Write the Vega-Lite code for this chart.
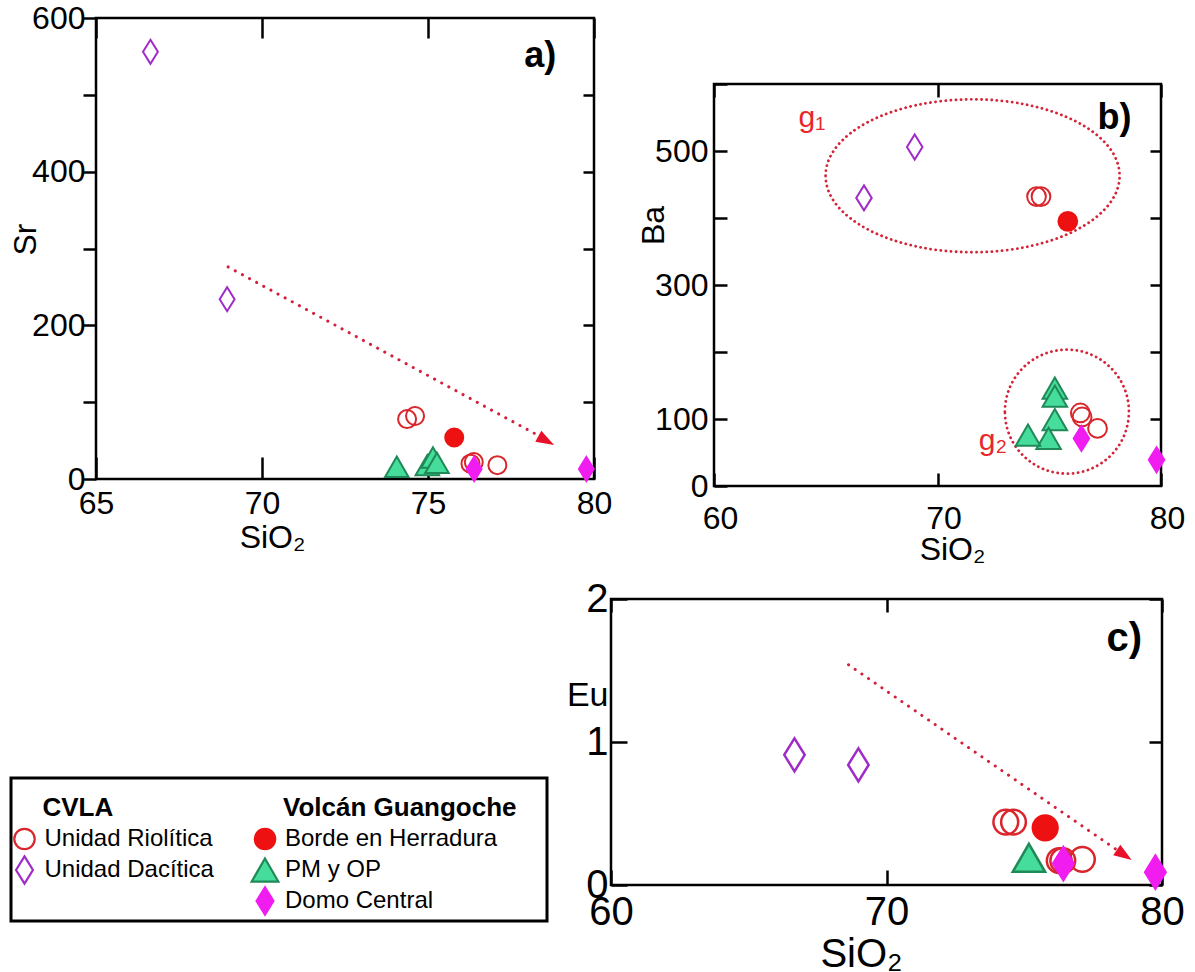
{
  "$schema": "https://vega.github.io/schema/vega-lite/v6.json",
  "padding": 0,
  "background": "white",
  "config": {
    "font": "Liberation Sans",
    "view": {"stroke": "#000", "strokeWidth": 2.5},
    "axis": {"domain": false, "grid": false, "tickColor": "#000", "tickWidth": 2.5, "labelColor": "#000", "titleColor": "#000", "labelFont": "Liberation Sans", "titleFont": "Liberation Sans", "titleFontWeight": "normal", "labelOverlap": false, "labelFlush": false, "labelBound": false},
    "text": {"font": "Liberation Sans"}
  },
  "datasets": {
    "a": [
      {"tipo": "Unidad Dacítica", "SiO2": 66.64, "val": 556},
      {"tipo": "Unidad Dacítica", "SiO2": 68.95, "val": 234},
      {"tipo": "Unidad Riolítica", "SiO2": 74.37, "val": 78},
      {"tipo": "Unidad Riolítica", "SiO2": 74.61, "val": 82},
      {"tipo": "Unidad Riolítica", "SiO2": 76.28, "val": 20},
      {"tipo": "Unidad Riolítica", "SiO2": 76.38, "val": 22},
      {"tipo": "Unidad Riolítica", "SiO2": 77.09, "val": 18},
      {"tipo": "Borde en Herradura", "SiO2": 75.79, "val": 54},
      {"tipo": "PM y OP", "SiO2": 74.06, "val": 16},
      {"tipo": "PM y OP", "SiO2": 74.98, "val": 18},
      {"tipo": "PM y OP", "SiO2": 75.15, "val": 28},
      {"tipo": "PM y OP", "SiO2": 75.27, "val": 21},
      {"tipo": "Domo Central", "SiO2": 76.39, "val": 13},
      {"tipo": "Domo Central", "SiO2": 79.77, "val": 13}
    ],
    "b": [
      {"tipo": "Unidad Dacítica", "SiO2": 66.71, "val": 430},
      {"tipo": "Unidad Dacítica", "SiO2": 68.98, "val": 506},
      {"tipo": "Unidad Riolítica", "SiO2": 74.43, "val": 432},
      {"tipo": "Unidad Riolítica", "SiO2": 74.63, "val": 432},
      {"tipo": "Unidad Riolítica", "SiO2": 76.39, "val": 109},
      {"tipo": "Unidad Riolítica", "SiO2": 76.47, "val": 103},
      {"tipo": "Unidad Riolítica", "SiO2": 77.16, "val": 86},
      {"tipo": "Borde en Herradura", "SiO2": 75.83, "val": 395},
      {"tipo": "PM y OP", "SiO2": 75.25, "val": 146},
      {"tipo": "PM y OP", "SiO2": 75.25, "val": 134},
      {"tipo": "PM y OP", "SiO2": 75.25, "val": 99},
      {"tipo": "PM y OP", "SiO2": 74.97, "val": 71},
      {"tipo": "PM y OP", "SiO2": 74.05, "val": 76},
      {"tipo": "Domo Central", "SiO2": 76.44, "val": 71},
      {"tipo": "Domo Central", "SiO2": 79.8, "val": 39}
    ],
    "c": [
      {"tipo": "Unidad Dacítica", "SiO2": 66.66, "val": 0.91},
      {"tipo": "Unidad Dacítica", "SiO2": 68.98, "val": 0.84},
      {"tipo": "Unidad Riolítica", "SiO2": 74.33, "val": 0.44},
      {"tipo": "Unidad Riolítica", "SiO2": 74.61, "val": 0.44},
      {"tipo": "Unidad Riolítica", "SiO2": 76.27, "val": 0.17},
      {"tipo": "Unidad Riolítica", "SiO2": 76.4, "val": 0.17},
      {"tipo": "Unidad Riolítica", "SiO2": 77.11, "val": 0.18},
      {"tipo": "Borde en Herradura", "SiO2": 75.76, "val": 0.4},
      {"tipo": "PM y OP", "SiO2": 75.17, "val": 0.19},
      {"tipo": "Domo Central", "SiO2": 76.42, "val": 0.15},
      {"tipo": "Domo Central", "SiO2": 79.76, "val": 0.09}
    ],
    "arrowA": [{"SiO2": 68.98, "val": 276}, {"SiO2": 78.35, "val": 56}],
    "headA": [{"SiO2": 78.56, "val": 50}],
    "arrowC": [{"SiO2": 68.62, "val": 1.54}, {"SiO2": 78.4, "val": 0.24}],
    "headC": [{"SiO2": 78.63, "val": 0.21}],
    "labA": [{"SiO2": 78.38, "val": 550, "txt": "a)"}],
    "labB": [{"SiO2": 77.92, "val": 550, "txt": "b)"}],
    "labC": [{"SiO2": 78.63, "val": 1.72, "txt": "c)"}],
    "gB": [{"SiO2": 64.38, "val": 549, "txt": "g₁"}, {"SiO2": 72.48, "val": 67, "txt": "g₂"}],
    "e1": [{"SiO2": 71.57, "val": 463}],
    "e2": [{"SiO2": 75.79, "val": 111}],
    "leg": [
      {"col": 0, "fila": 0, "texto": "CVLA", "hdr": true},
      {"col": 1, "fila": 0, "texto": "Volcán Guangoche", "hdr": true},
      {"col": 0, "fila": 1, "texto": "Unidad Riolítica", "tipo": "Unidad Riolítica", "hdr": false},
      {"col": 0, "fila": 2, "texto": "Unidad Dacítica", "tipo": "Unidad Dacítica", "hdr": false},
      {"col": 1, "fila": 1, "texto": "Borde en Herradura", "tipo": "Borde en Herradura", "hdr": false},
      {"col": 1, "fila": 2, "texto": "PM y OP", "tipo": "PM y OP", "hdr": false},
      {"col": 1, "fila": 3, "texto": "Domo Central", "tipo": "Domo Central", "hdr": false}
    ]
  },
  "bounds": "flush",
  "spacing": 0,
  "vconcat": [
    {
      "bounds": "flush", "spacing": 0,
      "vconcat": [
        {"width": 1, "height": 15, "view": {"stroke": null}, "data": {"values": [{}]}, "mark": {"type": "point", "opacity": 0}},
        {
          "bounds": "flush", "spacing": 0,
          "hconcat": [
            {"width": 93, "height": 1, "view": {"stroke": null}, "data": {"values": [{}]}, "mark": {"type": "point", "opacity": 0}},
            {
              "width": 498, "height": 461,
              "layer": [
                {"data": {"name": "a"}, "mark": {"type": "point", "filled": true, "size": 576, "strokeWidth": 2, "opacity": 1},
                 "encoding": {
                   "x": {"field": "SiO2", "type": "quantitative", "scale": {"domain": [65, 80], "nice": false, "zero": false},
                         "axis": {"orient": "bottom", "values": [65, 70, 75, 80], "tickSize": -22, "labelPadding": 31, "labelFontSize": 32, "title": "SiO₂", "titleFontSize": 32, "titleX": 176, "titlePadding": 3}},
                   "y": {"field": "val", "type": "quantitative", "scale": {"domain": [0, 600], "nice": false},
                         "axis": {"orient": "left", "values": [0, 100, 200, 300, 400, 500, 600], "tickSize": 13, "labelPadding": -2, "labelFontSize": 32, "labelExpr": "datum.value % 200 === 0 ? datum.label : ''", "title": "Sr", "titleFontSize": 32, "titleX": -71, "titleY": 221, "titleBaseline": "middle"}},
                   "shape": {"field": "tipo", "type": "nominal", "legend": null, "scale": {"domain": ["Unidad Riolítica", "Unidad Dacítica", "Borde en Herradura", "PM y OP", "Domo Central"], "range": ["M-0.75,0C-0.75,-0.4142,-0.4142,-0.75,0,-0.75C0.4142,-0.75,0.75,-0.4142,0.75,0C0.75,0.4142,0.4142,0.75,0,0.75C-0.4142,0.75,-0.75,0.4142,-0.75,0Z", "M0,-1L0.62,0L0,1L-0.62,0Z", "M-0.75,0C-0.75,-0.4142,-0.4142,-0.75,0,-0.75C0.4142,-0.75,0.75,-0.4142,0.75,0C0.75,0.4142,0.4142,0.75,0,0.75C-0.4142,0.75,-0.75,0.4142,-0.75,0Z", "M0,-0.85L0.98,0.85L-0.98,0.85Z", "M0,-1L0.62,0L0,1L-0.62,0Z"]}},
                   "fill": {"field": "tipo", "type": "nominal", "legend": null, "scale": {"domain": ["Unidad Riolítica", "Unidad Dacítica", "Borde en Herradura", "PM y OP", "Domo Central"], "range": ["transparent", "transparent", "#ee1111", "#46dc9b", "#f01cf0"]}},
                   "stroke": {"field": "tipo", "type": "nominal", "legend": null, "scale": {"domain": ["Unidad Riolítica", "Unidad Dacítica", "Borde en Herradura", "PM y OP", "Domo Central"], "range": ["#d9262c", "#a12bc9", "#ee1111", "#1f8a57", "#f01cf0"]}}
                 }},
                {"data": {"name": "a"}, "mark": {"type": "point", "opacity": 0},
                 "encoding": {
                   "x": {"field": "SiO2", "type": "quantitative", "scale": {"domain": [65, 80], "nice": false, "zero": false}, "axis": {"orient": "top", "values": [65, 70, 75, 80], "tickSize": -20, "labels": false, "title": null}},
                   "y": {"field": "val", "type": "quantitative", "scale": {"domain": [0, 600], "nice": false}, "axis": {"orient": "right", "values": [100, 200, 300, 400, 500], "tickSize": -11, "labels": false, "title": null}}
                 }},
                {"data": {"name": "arrowA"}, "mark": {"type": "line", "color": "#d3203c", "strokeWidth": 3, "strokeDash": [0.1, 8], "strokeCap": "round"},
                 "encoding": {
                   "x": {"field": "SiO2", "type": "quantitative", "axis": null, "scale": {"domain": [65, 80], "nice": false, "zero": false}},
                   "y": {"field": "val", "type": "quantitative", "axis": null, "scale": {"domain": [0, 600], "nice": false}}
                 }},
                {"data": {"name": "headA"}, "mark": {"type": "point", "shape": "M1,0L-1,-0.7L-1,0.7Z", "angle": 28.5, "size": 324, "filled": true, "color": "#e8102a", "opacity": 1},
                 "encoding": {
                   "x": {"field": "SiO2", "type": "quantitative", "axis": null, "scale": {"domain": [65, 80], "nice": false, "zero": false}},
                   "y": {"field": "val", "type": "quantitative", "axis": null, "scale": {"domain": [0, 600], "nice": false}}
                 }},
                {"data": {"name": "labA"}, "mark": {"type": "text", "fontSize": 36, "fontWeight": "bold", "color": "#000", "font": "Liberation Sans"},
                 "encoding": {
                   "x": {"field": "SiO2", "type": "quantitative", "axis": null, "scale": {"domain": [65, 80], "nice": false, "zero": false}},
                   "y": {"field": "val", "type": "quantitative", "axis": null, "scale": {"domain": [0, 600], "nice": false}},
                   "text": {"field": "txt"}
                 }}
              ],
              "resolve": {"axis": {"x": "independent", "y": "independent"}}
            }
          ]
        }
      ]
    },
    {
      "bounds": "flush", "spacing": 0,
      "vconcat": [
        {"width": 1, "height": 81, "view": {"stroke": null}, "data": {"values": [{}]}, "mark": {"type": "point", "opacity": 0}},
        {
          "bounds": "flush", "spacing": 0,
          "hconcat": [
            {"width": 711, "height": 1, "view": {"stroke": null}, "data": {"values": [{}]}, "mark": {"type": "point", "opacity": 0}},
            {
              "width": 447, "height": 402,
              "layer": [
                {"data": {"name": "e1"}, "mark": {"type": "point", "shape": "M-1,0C-1,-0.2872,-0.5523,-0.52,0,-0.52C0.5523,-0.52,1,-0.2872,1,0C1,0.2872,0.5523,0.52,0,0.52C-0.5523,0.52,-1,0.2872,-1,0Z", "size": 86436, "filled": false, "stroke": "#d42438", "strokeWidth": 2.8, "strokeDash": [0.1, 5], "strokeCap": "round", "opacity": 1},
                 "encoding": {
                   "x": {"field": "SiO2", "type": "quantitative", "axis": null, "scale": {"domain": [60, 80], "nice": false, "zero": false}},
                   "y": {"field": "val", "type": "quantitative", "axis": null, "scale": {"domain": [0, 600], "nice": false}}
                 }},
                {"data": {"name": "e2"}, "mark": {"type": "point", "shape": "M-1,0C-1,-0.5523,-0.5523,-1,0,-1C0.5523,-1,1,-0.5523,1,0C1,0.5523,0.5523,1,0,1C-0.5523,1,-1,0.5523,-1,0Z", "size": 15376, "filled": false, "stroke": "#d42438", "strokeWidth": 2.8, "strokeDash": [0.1, 5], "strokeCap": "round", "opacity": 1},
                 "encoding": {
                   "x": {"field": "SiO2", "type": "quantitative", "axis": null, "scale": {"domain": [60, 80], "nice": false, "zero": false}},
                   "y": {"field": "val", "type": "quantitative", "axis": null, "scale": {"domain": [0, 600], "nice": false}}
                 }},
                {"data": {"name": "b"}, "mark": {"type": "point", "filled": true, "size": 625, "strokeWidth": 2, "opacity": 1},
                 "encoding": {
                   "x": {"field": "SiO2", "type": "quantitative", "scale": {"domain": [60, 80], "nice": false, "zero": false},
                         "axis": {"orient": "bottom", "values": [60, 70, 80], "tickSize": -13, "labelPadding": 30, "labelOffset": 6, "labelFontSize": 32, "title": "SiO₂", "titleFontSize": 32, "titleX": 238, "titlePadding": 0}},
                   "y": {"field": "val", "type": "quantitative", "scale": {"domain": [0, 600], "nice": false},
                         "axis": {"orient": "left", "values": [0, 100, 200, 300, 400, 500, 600], "tickSize": -13, "labelPadding": 19, "labelFontSize": 32, "labelExpr": "indexof([0, 100, 300, 500], datum.value) >= 0 ? datum.label : ''", "title": "Ba", "titleFontSize": 32, "titleY": 141, "titleX": -61, "titleBaseline": "middle"}},
                   "shape": {"field": "tipo", "type": "nominal", "legend": null, "scale": {"domain": ["Unidad Riolítica", "Unidad Dacítica", "Borde en Herradura", "PM y OP", "Domo Central"], "range": ["M-0.75,0C-0.75,-0.4142,-0.4142,-0.75,0,-0.75C0.4142,-0.75,0.75,-0.4142,0.75,0C0.75,0.4142,0.4142,0.75,0,0.75C-0.4142,0.75,-0.75,0.4142,-0.75,0Z", "M0,-1L0.62,0L0,1L-0.62,0Z", "M-0.75,0C-0.75,-0.4142,-0.4142,-0.75,0,-0.75C0.4142,-0.75,0.75,-0.4142,0.75,0C0.75,0.4142,0.4142,0.75,0,0.75C-0.4142,0.75,-0.75,0.4142,-0.75,0Z", "M0,-0.85L0.98,0.85L-0.98,0.85Z", "M0,-1L0.62,0L0,1L-0.62,0Z"]}},
                   "fill": {"field": "tipo", "type": "nominal", "legend": null, "scale": {"domain": ["Unidad Riolítica", "Unidad Dacítica", "Borde en Herradura", "PM y OP", "Domo Central"], "range": ["transparent", "transparent", "#ee1111", "#46dc9b", "#f01cf0"]}},
                   "stroke": {"field": "tipo", "type": "nominal", "legend": null, "scale": {"domain": ["Unidad Riolítica", "Unidad Dacítica", "Borde en Herradura", "PM y OP", "Domo Central"], "range": ["#d9262c", "#a12bc9", "#ee1111", "#1f8a57", "#f01cf0"]}}
                 }},
                {"data": {"name": "b"}, "mark": {"type": "point", "opacity": 0},
                 "encoding": {
                   "x": {"field": "SiO2", "type": "quantitative", "scale": {"domain": [60, 80], "nice": false, "zero": false}, "axis": {"orient": "top", "values": [60, 70, 80], "tickSize": -13, "labels": false, "title": null}},
                   "y": {"field": "val", "type": "quantitative", "scale": {"domain": [0, 600], "nice": false}, "axis": {"orient": "right", "values": [100, 200, 300, 400, 500], "tickSize": -11, "labels": false, "title": null}}
                 }},
                {"data": {"name": "gB"}, "mark": {"type": "text", "fontSize": 30, "color": "#e8262b", "font": "Liberation Sans"},
                 "encoding": {
                   "x": {"field": "SiO2", "type": "quantitative", "axis": null, "scale": {"domain": [60, 80], "nice": false, "zero": false}},
                   "y": {"field": "val", "type": "quantitative", "axis": null, "scale": {"domain": [0, 600], "nice": false}},
                   "text": {"field": "txt"}
                 }},
                {"data": {"name": "labB"}, "mark": {"type": "text", "fontSize": 36, "fontWeight": "bold", "color": "#000", "font": "Liberation Sans"},
                 "encoding": {
                   "x": {"field": "SiO2", "type": "quantitative", "axis": null, "scale": {"domain": [60, 80], "nice": false, "zero": false}},
                   "y": {"field": "val", "type": "quantitative", "axis": null, "scale": {"domain": [0, 600], "nice": false}},
                   "text": {"field": "txt"}
                 }}
              ],
              "resolve": {"axis": {"x": "independent", "y": "independent"}}
            }
          ]
        }
      ]
    },
    {
      "bounds": "flush", "spacing": 0,
      "vconcat": [
        {"width": 1, "height": 596, "view": {"stroke": null}, "data": {"values": [{}]}, "mark": {"type": "point", "opacity": 0}},
        {
          "bounds": "flush", "spacing": 0,
          "hconcat": [
            {"width": 608, "height": 1, "view": {"stroke": null}, "data": {"values": [{}]}, "mark": {"type": "point", "opacity": 0}},
            {
              "width": 551, "height": 286,
              "layer": [
                {"data": {"name": "c"}, "mark": {"type": "point", "filled": true, "size": 1089, "strokeWidth": 2.5, "opacity": 1},
                 "encoding": {
                   "x": {"field": "SiO2", "type": "quantitative", "scale": {"domain": [60, 80], "nice": false, "zero": false},
                         "axis": {"orient": "bottom", "values": [60, 70, 80], "tickSize": -15, "labelPadding": 22, "labelFontSize": 40, "title": "SiO₂", "titleFontSize": 40, "titleX": 250, "titlePadding": 2}},
                   "y": {"field": "val", "type": "quantitative", "scale": {"domain": [0, 2], "nice": false},
                         "axis": {"orient": "left", "values": [0, 1, 2], "labelExpr": "toString(datum.value)", "tickSize": -16, "labelPadding": 19, "labelFontSize": 40, "title": "Eu", "titleFontSize": 34, "titleAngle": 0, "titleX": -3, "titleY": 96, "titleAlign": "right", "titleBaseline": "middle"}},
                   "shape": {"field": "tipo", "type": "nominal", "legend": null, "scale": {"domain": ["Unidad Riolítica", "Unidad Dacítica", "Borde en Herradura", "PM y OP", "Domo Central"], "range": ["M-0.75,0C-0.75,-0.4142,-0.4142,-0.75,0,-0.75C0.4142,-0.75,0.75,-0.4142,0.75,0C0.75,0.4142,0.4142,0.75,0,0.75C-0.4142,0.75,-0.75,0.4142,-0.75,0Z", "M0,-1L0.62,0L0,1L-0.62,0Z", "M-0.75,0C-0.75,-0.4142,-0.4142,-0.75,0,-0.75C0.4142,-0.75,0.75,-0.4142,0.75,0C0.75,0.4142,0.4142,0.75,0,0.75C-0.4142,0.75,-0.75,0.4142,-0.75,0Z", "M0,-0.85L0.98,0.85L-0.98,0.85Z", "M0,-1L0.62,0L0,1L-0.62,0Z"]}},
                   "fill": {"field": "tipo", "type": "nominal", "legend": null, "scale": {"domain": ["Unidad Riolítica", "Unidad Dacítica", "Borde en Herradura", "PM y OP", "Domo Central"], "range": ["transparent", "transparent", "#ee1111", "#46dc9b", "#f01cf0"]}},
                   "stroke": {"field": "tipo", "type": "nominal", "legend": null, "scale": {"domain": ["Unidad Riolítica", "Unidad Dacítica", "Borde en Herradura", "PM y OP", "Domo Central"], "range": ["#d9262c", "#a12bc9", "#ee1111", "#1f8a57", "#f01cf0"]}}
                 }},
                {"data": {"name": "c"}, "mark": {"type": "point", "opacity": 0},
                 "encoding": {
                   "x": {"field": "SiO2", "type": "quantitative", "scale": {"domain": [60, 80], "nice": false, "zero": false}, "axis": {"orient": "top", "values": [60, 70, 80], "tickSize": -13, "labels": false, "title": null}},
                   "y": {"field": "val", "type": "quantitative", "scale": {"domain": [0, 2], "nice": false}, "axis": {"orient": "right", "values": [0, 1, 2], "tickSize": -13, "labels": false, "title": null}}
                 }},
                {"data": {"name": "arrowC"}, "mark": {"type": "line", "color": "#d3203c", "strokeWidth": 3, "strokeDash": [0.1, 8], "strokeCap": "round"},
                 "encoding": {
                   "x": {"field": "SiO2", "type": "quantitative", "axis": null, "scale": {"domain": [60, 80], "nice": false, "zero": false}},
                   "y": {"field": "val", "type": "quantitative", "axis": null, "scale": {"domain": [0, 2], "nice": false}}
                 }},
                {"data": {"name": "headC"}, "mark": {"type": "point", "shape": "M1,0L-1,-0.7L-1,0.7Z", "angle": 34, "size": 324, "filled": true, "color": "#e8102a", "opacity": 1},
                 "encoding": {
                   "x": {"field": "SiO2", "type": "quantitative", "axis": null, "scale": {"domain": [60, 80], "nice": false, "zero": false}},
                   "y": {"field": "val", "type": "quantitative", "axis": null, "scale": {"domain": [0, 2], "nice": false}}
                 }},
                {"data": {"name": "labC"}, "mark": {"type": "text", "fontSize": 40, "fontWeight": "bold", "color": "#000", "font": "Liberation Sans"},
                 "encoding": {
                   "x": {"field": "SiO2", "type": "quantitative", "axis": null, "scale": {"domain": [60, 80], "nice": false, "zero": false}},
                   "y": {"field": "val", "type": "quantitative", "axis": null, "scale": {"domain": [0, 2], "nice": false}},
                   "text": {"field": "txt"}
                 }}
              ],
              "resolve": {"axis": {"x": "independent", "y": "independent"}}
            }
          ]
        }
      ]
    },
    {
      "bounds": "flush", "spacing": 0,
      "vconcat": [
        {"width": 1, "height": 775, "view": {"stroke": null}, "data": {"values": [{}]}, "mark": {"type": "point", "opacity": 0}},
        {
          "bounds": "flush", "spacing": 0,
          "hconcat": [
            {"width": 8, "height": 1, "view": {"stroke": null}, "data": {"values": [{}]}, "mark": {"type": "point", "opacity": 0}},
            {
              "width": 536, "height": 143,
              "view": {"stroke": "#000", "strokeWidth": 3},
              "data": {"name": "leg"},
              "layer": [
                {"transform": [{"filter": "datum.hdr"}],
                 "mark": {"type": "text", "fontSize": 26, "fontWeight": "bold", "align": "left", "baseline": "middle", "dx": 18, "color": "#000", "font": "Liberation Sans"},
                 "encoding": {
                   "x": {"field": "col", "type": "quantitative", "axis": null, "scale": {"domain": [0, 1], "range": [13.5, 254]}},
                   "y": {"field": "fila", "type": "quantitative", "axis": null, "scale": {"domain": [0, 3], "range": [30, 123]}},
                   "text": {"field": "texto"}
                 }},
                {"transform": [{"filter": "!datum.hdr"}],
                 "mark": {"type": "point", "filled": true, "size": 740, "strokeWidth": 2.2, "opacity": 1},
                 "encoding": {
                   "x": {"field": "col", "type": "quantitative", "axis": null, "scale": {"domain": [0, 1], "range": [13.5, 254]}},
                   "y": {"field": "fila", "type": "quantitative", "axis": null, "scale": {"domain": [0, 3], "range": [30, 123]}},
                   "shape": {"field": "tipo", "type": "nominal", "legend": null, "scale": {"domain": ["Unidad Riolítica", "Unidad Dacítica", "Borde en Herradura", "PM y OP", "Domo Central"], "range": ["M-0.75,0C-0.75,-0.4142,-0.4142,-0.75,0,-0.75C0.4142,-0.75,0.75,-0.4142,0.75,0C0.75,0.4142,0.4142,0.75,0,0.75C-0.4142,0.75,-0.75,0.4142,-0.75,0Z", "M0,-1L0.62,0L0,1L-0.62,0Z", "M-0.75,0C-0.75,-0.4142,-0.4142,-0.75,0,-0.75C0.4142,-0.75,0.75,-0.4142,0.75,0C0.75,0.4142,0.4142,0.75,0,0.75C-0.4142,0.75,-0.75,0.4142,-0.75,0Z", "M0,-0.85L0.98,0.85L-0.98,0.85Z", "M0,-1L0.62,0L0,1L-0.62,0Z"]}},
                   "fill": {"field": "tipo", "type": "nominal", "legend": null, "scale": {"domain": ["Unidad Riolítica", "Unidad Dacítica", "Borde en Herradura", "PM y OP", "Domo Central"], "range": ["transparent", "transparent", "#ee1111", "#46dc9b", "#f01cf0"]}},
                   "stroke": {"field": "tipo", "type": "nominal", "legend": null, "scale": {"domain": ["Unidad Riolítica", "Unidad Dacítica", "Borde en Herradura", "PM y OP", "Domo Central"], "range": ["#d9262c", "#a12bc9", "#ee1111", "#1f8a57", "#f01cf0"]}}
                 }},
                {"transform": [{"filter": "!datum.hdr"}],
                 "mark": {"type": "text", "fontSize": 24, "align": "left", "baseline": "middle", "dx": 20, "color": "#000", "font": "Liberation Sans"},
                 "encoding": {
                   "x": {"field": "col", "type": "quantitative", "axis": null, "scale": {"domain": [0, 1], "range": [13.5, 254]}},
                   "y": {"field": "fila", "type": "quantitative", "axis": null, "scale": {"domain": [0, 3], "range": [30, 123]}},
                   "text": {"field": "texto"}
                 }}
              ]
            }
          ]
        }
      ]
    }
  ]
}
